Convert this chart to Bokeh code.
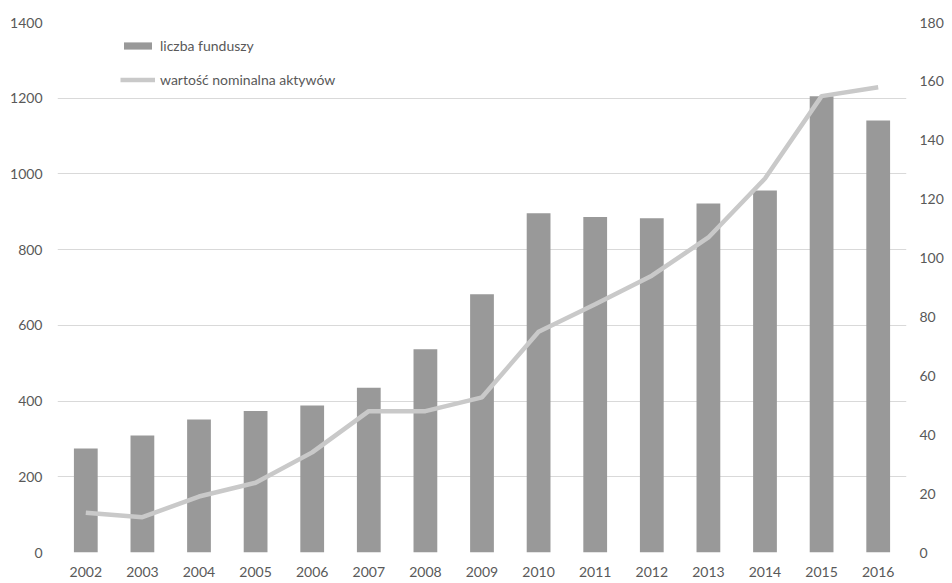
from bokeh.plotting import figure
from bokeh.models import LinearAxis, Range1d, FactorRange, Legend, LegendItem, ColumnDataSource
from bokeh.embed import file_html
from bokeh.resources import INLINE

years = ["2002", "2003", "2004", "2005", "2006", "2007", "2008", "2009",
         "2010", "2011", "2012", "2013", "2014", "2015", "2016"]
liczba_funduszy = [275, 309, 351, 374, 388, 435, 537, 682, 896, 886, 883, 922, 956, 1205, 1141]
wartosc_aktywow = [13.5, 12, 19, 23.7, 34, 48, 48, 52.7, 75, 84.3, 94, 107, 127, 155, 158]

bar_label = "liczba funduszy"
line_label = "wartość nominalna aktywów"

FONT = "Lato"
TXT = "#595959"

src = ColumnDataSource(dict(x=years, bars=liczba_funduszy, line=wartosc_aktywow))

p = figure(x_range=FactorRange(*years), y_range=Range1d(0, 1400),
           width=952, height=583, output_backend="svg", toolbar_location=None,
           min_border_left=57, min_border_right=46, min_border_top=22, min_border_bottom=31)
p.extra_y_ranges = {"right": Range1d(0, 180)}
p.outline_line_color = None
p.background_fill_color = "white"
p.border_fill_color = "white"

vb = p.vbar(x="x", top="bars", width=0.42, source=src, fill_color="#999999", line_color=None)
ln = p.line(x="x", y="line", source=src, y_range_name="right", line_color="#c9c9c9", line_width=4.5)

p.xgrid.grid_line_color = None
p.ygrid.grid_line_color = "#d9d9d9"
p.ygrid.grid_line_width = 1
p.yaxis.ticker = list(range(0, 1401, 200))

right = LinearAxis(y_range_name="right", ticker=list(range(0, 181, 20)))
p.add_layout(right, "right")

for ax in [p.xaxis[0], p.yaxis[0], right]:
    ax.axis_line_color = None
    ax.major_tick_line_color = None
    ax.minor_tick_line_color = None
    ax.major_tick_out = 0
    ax.major_tick_in = 0
    ax.minor_tick_out = 0
    ax.minor_tick_in = 0
    ax.major_label_text_font = FONT
    ax.major_label_text_font_size = "14px"
    ax.major_label_text_color = TXT
p.xaxis.major_label_standoff = 14
p.yaxis[0].major_label_standoff = 15
right.major_label_standoff = 13

legend = Legend(items=[LegendItem(label=bar_label, renderers=[vb]),
                       LegendItem(label=line_label, renderers=[ln])],
                location=(63, 464), orientation="vertical",
                glyph_width=35, glyph_height=9, label_height=16, spacing=17,
                label_standoff=5, padding=0, margin=0,
                border_line_color=None, background_fill_alpha=0,
                label_text_font=FONT, label_text_font_size="14px", label_text_color=TXT)
p.add_layout(legend)

open("out.html", "w").write(file_html(p, INLINE))
